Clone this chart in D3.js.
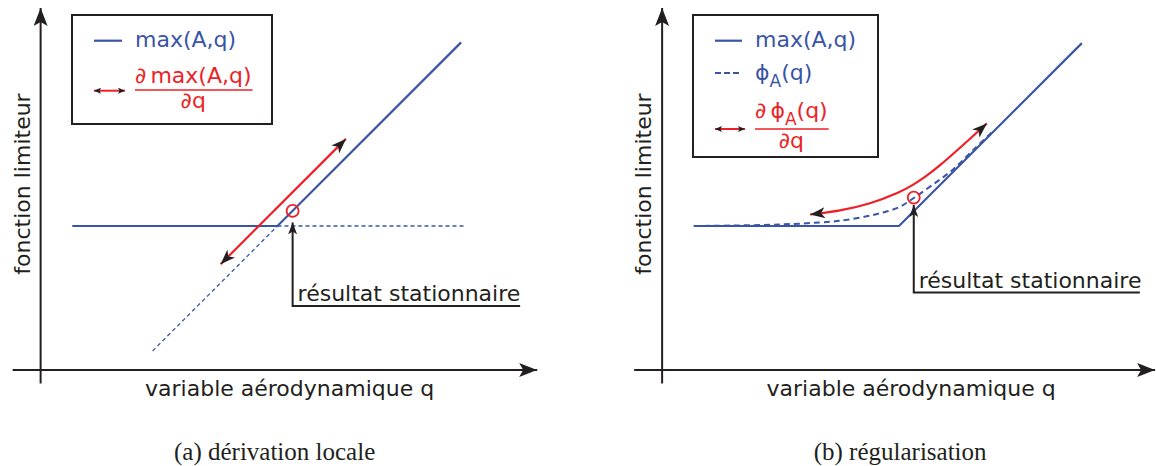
<!DOCTYPE html>
<html><head><meta charset="utf-8">
<script src="https://cdn.jsdelivr.net/npm/d3@7"></script>
<style>body{margin:0;background:#fff}svg{display:block}</style>
</head><body><svg id="c" width="1156" height="466"></svg>
<script>
// ---------- data ----------
const captions = ["(a) dérivation locale", "(b) régularisation"];
const xLabel = "variable aérodynamique q";
const yLabel = "fonction limiteur";
const annotText = "résultat stationnaire";
const A = 4;

// panel (a)
const maxQa = [-1.7, 4, 9.1];
const maxVa = [4, 4, 9.1];
const extHq = [4, 9.2];          // dashed horizontal continuation
const extHv = [4, 4];
const extDq = [0.53, 4];         // dashed diagonal continuation
const extDv = [0.53, 4];
const statA = [4.42, 4.42];      // stationary point
const tanQa = [2.42, 5.9];       // local derivative arrow
const tanVa = [2.94, 6.42];
const annQa = [10.74, 4.42, 4.42];
const annVa = [1.78, 1.78, 4.1];

// panel (b)
const maxQb = [-1.7, 4, 9.08];
const maxVb = [4, 4, 9.08];
const phiQ = [-1.7, 0.65, 2.1, 2.55, 3.1, 3.5, 4.0, 4.4, 4.9, 5.5, 6.1, 6.6];
const phiV = [4.0, 4.04, 4.12, 4.17, 4.27, 4.36, 4.52, 4.77, 5.12, 5.57, 6.15, 6.62];
const statB = [4.41, 4.79];
const tanQb = [1.53, 2.36, 3.19, 4.03, 4.39, 4.72, 5.06, 5.83, 6.44];
const tanVb = [4.32, 4.42, 4.61, 4.94, 5.14, 5.36, 5.61, 6.29, 6.85];
const annQb = [10.69, 4.41, 4.41];
const annVb = [2.15, 2.15, 4.58];

// axes extents (data units)
const axisQ = [[-3.37, 11.2], [-3.37, 11.1]];
const yAxisQ = -2.58;
const axisV = [-0.36, 10.07];

// ---------- style ----------
const BLUE = "#3a55a5", RED = "#ee1f26", INK = "#231f20";
const FONT = "DejaVu Sans";
const svg = d3.select("#c");
const defs = svg.append("defs");
function marker(id, len, half, notch) {
  defs.append("marker").attr("id", id).attr("markerUnits", "userSpaceOnUse")
    .attr("viewBox", `0 ${-half} ${len} ${2*half}`).attr("refX", len).attr("refY", 0)
    .attr("markerWidth", len).attr("markerHeight", 2*half).attr("orient", "auto-start-reverse")
    .append("path").attr("d", `M0,${-half}L${len},0L0,${half}L${notch},0Z`).attr("fill", INK);
}
marker("axArrow", 18, 7, 4);
marker("bigArrow", 15, 5.5, 4);
marker("annArrow", 12, 4.5, 3);
marker("smallArrow", 7, 3, 1.5);

const origins = [133.5, 755];   // pixel of q = 0 per panel
const unit = 36;
const yScale = d3.scaleLinear().domain([0, 10]).range([370, 370 - 10 * unit]);

function panel(i, cfg) {
  const x0 = origins[i];
  const x = d3.scaleLinear().domain([0, 10]).range([x0, x0 + 10 * unit]);
  const g = svg.append("g");
  const line = d3.line().x(d => x(d[0])).y(d => yScale(d[1]));
  const zip = (a, b) => a.map((v, k) => [v, b[k]]);

  // axes
  const xa = x.copy().domain(axisQ[i]).range(axisQ[i].map(x));
  const ya = yScale.copy().domain(axisV).range(axisV.map(yScale));
  const gx = g.append("g").attr("transform", `translate(0,${yScale(0) - 0.5})`)
    .call(d3.axisBottom(xa).tickValues([]).tickSizeOuter(0));
  const gy = g.append("g").attr("transform", `translate(${x(yAxisQ) - 0.5},0)`)
    .call(d3.axisLeft(ya).tickValues([]).tickSizeOuter(0));
  [gx, gy].forEach(a => a.select(".domain").attr("stroke", INK).attr("stroke-width", 2)
    .attr("marker-end", "url(#axArrow)"));

  // axis labels
  g.append("text").attr("x", x(yAxisQ) + 249).attr("y", 396).attr("text-anchor", "middle")
    .attr("font-family", FONT).attr("font-size", 22).attr("fill", INK).text(xLabel);
  g.append("text").attr("transform", `translate(${x(yAxisQ) - 11},184) rotate(-90)`)
    .attr("text-anchor", "middle").attr("font-family", FONT).attr("font-size", 22)
    .attr("fill", INK).text(yLabel);

  // caption
  g.append("text").attr("x", x(yAxisQ) + (i === 0 ? 234 : 238)).attr("y", 460).attr("text-anchor", "middle")
    .attr("font-family", "Liberation Serif").attr("font-size", 25).attr("fill", INK).text(captions[i]);

  cfg(g, x, line, zip);
}

function annotation(g, line, zip, qs, vs, x) {
  g.append("path").attr("d", line(zip(qs, vs))).attr("fill", "none").attr("stroke", INK)
    .attr("stroke-width", 2).attr("marker-end", "url(#annArrow)");
  g.append("text").attr("x", x(qs[1]) + 5).attr("y", yScale(vs[0]) - 5)
    .attr("font-family", FONT).attr("font-size", 22).attr("fill", INK).text(annotText);
}

function legendBox(g, bx, by, bw, bh) {
  g.append("rect").attr("x", bx).attr("y", by).attr("width", bw).attr("height", bh)
    .attr("fill", "#fff").attr("stroke", INK).attr("stroke-width", 2);
}

function fraction(g, tx, numY, barY, denY, numBuilder) {
  const num = g.append("text").attr("x", tx).attr("y", numY).attr("font-family", FONT)
    .attr("font-size", 22).attr("fill", RED);
  numBuilder(num);
  const w = num.node().getBBox().width;
  g.append("line").attr("x1", tx).attr("x2", tx + w + 1).attr("y1", barY).attr("y2", barY)
    .attr("stroke", RED).attr("stroke-width", 1.5);
  g.append("text").attr("x", tx + w / 2).attr("y", denY).attr("text-anchor", "middle")
    .attr("font-family", FONT).attr("font-size", 22).attr("fill", RED).text("∂q");
}

// ---------- panel a ----------
panel(0, (g, x, line, zip) => {
  g.append("path").attr("d", line(zip(extHq, extHv))).attr("fill", "none").attr("stroke", BLUE)
    .attr("stroke-width", 1.3).attr("stroke-dasharray", "4,3");
  g.append("path").attr("d", line(zip(extDq, extDv))).attr("fill", "none").attr("stroke", BLUE)
    .attr("stroke-width", 1.3).attr("stroke-dasharray", "4,3");
  g.append("path").attr("d", line(zip(maxQa, maxVa))).attr("fill", "none").attr("stroke", BLUE)
    .attr("stroke-width", 2.2);
  g.append("path").attr("d", line(zip(tanQa, tanVa))).attr("fill", "none").attr("stroke", RED)
    .attr("stroke-width", 2.2).attr("marker-start", "url(#bigArrow)").attr("marker-end", "url(#bigArrow)");
  g.append("circle").attr("cx", x(statA[0])).attr("cy", yScale(statA[1])).attr("r", 6)
    .attr("fill", "none").attr("stroke", RED).attr("stroke-width", 1.8);
  annotation(g, line, zip, annQa, annVa, x);

  const bx = 72, by = 15;
  legendBox(g, bx, by, 200, 109);
  g.append("line").attr("x1", bx + 22).attr("x2", bx + 50).attr("y1", 40.7).attr("y2", 40.7)
    .attr("stroke", BLUE).attr("stroke-width", 2.2);
  g.append("text").attr("x", bx + 63).attr("y", 47).attr("font-family", FONT).attr("font-size", 22)
    .attr("fill", BLUE).text("max(A,q)");
  g.append("line").attr("x1", bx + 22).attr("x2", bx + 53).attr("y1", 90.7).attr("y2", 90.7)
    .attr("stroke", RED).attr("stroke-width", 2).attr("marker-start", "url(#smallArrow)")
    .attr("marker-end", "url(#smallArrow)");
  fraction(g, bx + 63, 83, 90, 108, t => {
    t.append("tspan").text("∂");
    t.append("tspan").attr("dx", 4).text("max(A,q)");
  });
});

// ---------- panel b ----------
panel(1, (g, x, line, zip) => {
  g.append("path").attr("d", line(zip(maxQb, maxVb))).attr("fill", "none").attr("stroke", BLUE)
    .attr("stroke-width", 2.2);
  g.append("path").attr("d", line.curve(d3.curveCatmullRom)(zip(phiQ, phiV))).attr("fill", "none")
    .attr("stroke", BLUE).attr("stroke-width", 2).attr("stroke-dasharray", "6,4");
  g.append("path").attr("d", line.curve(d3.curveBasis)(zip(tanQb, tanVb))).attr("fill", "none")
    .attr("stroke", RED).attr("stroke-width", 2.2).attr("marker-start", "url(#bigArrow)")
    .attr("marker-end", "url(#bigArrow)");
  line.curve(d3.curveLinear);
  g.append("circle").attr("cx", x(statB[0])).attr("cy", yScale(statB[1])).attr("r", 6)
    .attr("fill", "none").attr("stroke", RED).attr("stroke-width", 1.8);
  annotation(g, line, zip, annQb, annVb, x);

  const bx = 693, by = 15;
  legendBox(g, bx, by, 185, 142);
  g.append("line").attr("x1", bx + 22).attr("x2", bx + 49).attr("y1", 40.7).attr("y2", 40.7)
    .attr("stroke", BLUE).attr("stroke-width", 2.2);
  g.append("text").attr("x", bx + 62).attr("y", 47).attr("font-family", FONT).attr("font-size", 22)
    .attr("fill", BLUE).text("max(A,q)");
  g.append("line").attr("x1", bx + 22).attr("x2", bx + 49).attr("y1", 73).attr("y2", 73)
    .attr("stroke", BLUE).attr("stroke-width", 2).attr("stroke-dasharray", "6,3");
  const phi = g.append("text").attr("x", bx + 62).attr("y", 80).attr("font-family", FONT)
    .attr("font-size", 22).attr("fill", BLUE);
  phi.append("tspan").text("ϕ");
  phi.append("tspan").attr("dy", 7).attr("font-size", 17).text("A");
  phi.append("tspan").attr("dy", -7).text("(q)");
  g.append("line").attr("x1", bx + 22).attr("x2", bx + 52).attr("y1", 129).attr("y2", 129)
    .attr("stroke", RED).attr("stroke-width", 2).attr("marker-start", "url(#smallArrow)")
    .attr("marker-end", "url(#smallArrow)");
  fraction(g, bx + 62, 118, 129, 148, t => {
    t.append("tspan").text("∂");
    t.append("tspan").attr("dx", 4).text("ϕ");
    t.append("tspan").attr("dy", 7).attr("font-size", 17).text("A");
    t.append("tspan").attr("dy", -7).text("(q)");
  });
});
</script></body></html>
